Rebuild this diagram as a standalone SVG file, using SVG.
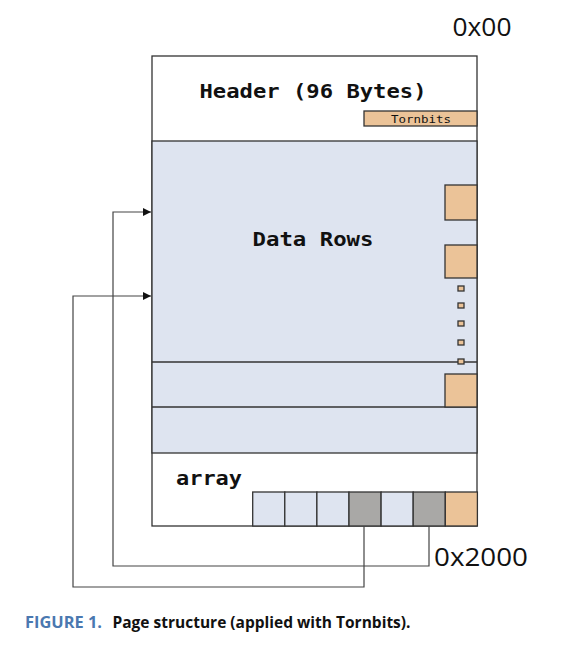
<svg xmlns="http://www.w3.org/2000/svg" width="576" height="656" viewBox="0 0 576 656">
<style>
.box{stroke:#333;stroke-width:1.3}
.blue{fill:#dee4f0}
.tan{fill:#ebc398}
.gray{fill:#a9a8a6}
.mono{font-family:"DejaVu Sans Mono","Liberation Mono",monospace;font-weight:bold;fill:#111}
.sans{font-family:"Open Sans","Noto Sans",sans-serif;fill:#111}
.conn{fill:none;stroke:#444;stroke-width:1.2}
</style>
<defs>
<marker id="arr" viewBox="0 0 10 10" refX="10" refY="5" markerWidth="8" markerHeight="8" markerUnits="userSpaceOnUse" orient="auto">
<path d="M0,0 L10,5 L0,10 z" fill="#111"/>
</marker>
</defs>
<rect width="576" height="656" fill="#fff"/>
<g id="page">
<rect x="152" y="56" width="325" height="470" fill="#fff" class="box"/>
<rect x="152" y="141" width="325" height="312" class="blue box"/>
<line x1="152" y1="362" x2="477" y2="362" class="box"/>
<line x1="152" y1="407" x2="477" y2="407" class="box"/>
</g>
<g id="header">
<text x="313" y="98" class="mono" font-size="19" text-anchor="middle" textLength="227" lengthAdjust="spacingAndGlyphs">Header (96 Bytes)</text>
<rect x="364" y="111" width="113" height="15" class="tan box" stroke-width="1"/>
<text x="421" y="122.5" class="mono" font-weight="normal" font-size="11" text-anchor="middle" textLength="60" lengthAdjust="spacingAndGlyphs" style="font-weight:normal">Tornbits</text>
</g>
<g id="data-rows">
<text x="313" y="246" class="mono" font-size="19" text-anchor="middle" textLength="121" lengthAdjust="spacingAndGlyphs">Data Rows</text>
<rect x="445" y="185" width="32" height="35" class="tan box"/>
<rect x="445" y="245" width="32" height="33" class="tan box"/>
<rect x="458" y="286" width="6" height="5" class="tan box" stroke-width="1"/>
<rect x="458" y="303" width="6" height="5" class="tan box" stroke-width="1"/>
<rect x="458" y="321" width="6" height="5" class="tan box" stroke-width="1"/>
<rect x="458" y="340" width="6" height="5" class="tan box" stroke-width="1"/>
<rect x="458" y="359" width="6" height="5" class="tan box" stroke-width="1"/>
<rect x="445" y="374" width="32" height="33" class="tan box"/>
</g>
<g id="array">
<text x="176" y="485" class="mono" font-size="19" textLength="66" lengthAdjust="spacingAndGlyphs">array</text>
<rect x="252.7" y="492" width="32.1" height="34" class="blue box"/>
<rect x="284.8" y="492" width="32.1" height="34" class="blue box"/>
<rect x="316.9" y="492" width="32.1" height="34" class="blue box"/>
<rect x="349" y="492" width="32.1" height="34" class="gray box"/>
<rect x="381.1" y="492" width="32.1" height="34" class="blue box"/>
<rect x="413.2" y="492" width="32.1" height="34" class="gray box"/>
<rect x="445.3" y="492" width="32.1" height="34" class="tan box"/>
</g>
<g id="connectors">
<polyline class="conn" points="364,526 364,587 73,587 73,296 151,296" marker-end="url(#arr)"/>
<polyline class="conn" points="429,526 429,566 113,566 113,212 151,212" marker-end="url(#arr)"/>
</g>
<g id="labels">
<text x="452.5" y="36" class="sans" font-size="25" textLength="59" lengthAdjust="spacingAndGlyphs">0x00</text>
<text x="434" y="566" class="sans" font-size="26" textLength="94" lengthAdjust="spacingAndGlyphs">0x2000</text>
</g>
<g id="caption">
<text x="25" y="627.5" font-family="'Open Sans','Noto Sans',sans-serif" font-weight="bold" font-size="16" fill="#4a78b0" textLength="77" lengthAdjust="spacingAndGlyphs">FIGURE 1.</text>
<text x="112.5" y="627.5" font-family="'Open Sans','Noto Sans',sans-serif" font-weight="bold" font-size="16" fill="#111" textLength="298" lengthAdjust="spacingAndGlyphs">Page structure (applied with Tornbits).</text>
</g>
</svg>
